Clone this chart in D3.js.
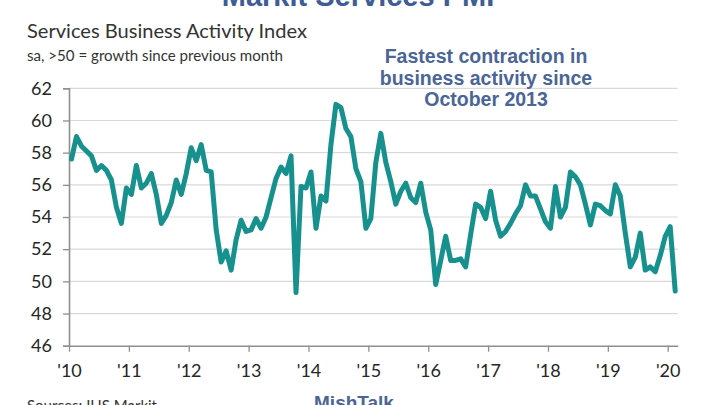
<!DOCTYPE html>
<html>
<head>
<meta charset="utf-8">
<script src="https://cdn.jsdelivr.net/npm/d3@7"></script>
<style>
  html, body { margin: 0; padding: 0; background: #fff; }
  svg { display: block; }
</style>
</head>
<body>
<svg id="chart" width="712" height="405"></svg>
<script>
// ---- Data ----
const startYear = 2010;
const values = [
  57.6, 59.0, 58.4, 58.1, 57.8, 56.9, 57.2, 56.9, 56.3, 54.6, 53.6, 55.8,   // 2010
  55.4, 57.2, 55.8, 56.1, 56.7, 55.4, 53.6, 54.1, 54.9, 56.3, 55.4, 56.7,   // 2011
  58.3, 57.5, 58.5, 56.9, 56.8, 53.2, 51.2, 51.9, 50.7, 52.6, 53.8, 53.1,   // 2012
  53.2, 53.9, 53.3, 54.0, 55.2, 56.4, 57.1, 56.7, 57.8, 49.3, 55.9, 55.8,   // 2013
  56.8, 53.3, 55.3, 55.0, 58.5, 61.0, 60.8, 59.5, 59.0, 57.0, 56.2, 53.3,   // 2014
  53.9, 57.4, 59.2, 57.4, 56.2, 54.8, 55.6, 56.1, 55.2, 54.9, 56.1, 54.3,   // 2015
  53.2, 49.8, 51.3, 52.8, 51.3, 51.3, 51.4, 50.9, 52.9, 54.8, 54.6, 53.9,   // 2016
  55.6, 53.8, 52.8, 53.1, 53.6, 54.2, 54.7, 56.0, 55.3, 55.3, 54.5, 53.7,   // 2017
  53.3, 55.9, 54.0, 54.6, 56.8, 56.5, 56.0, 54.8, 53.5, 54.8, 54.7, 54.4,   // 2018
  54.2, 56.0, 55.3, 53.0, 50.9, 51.5, 53.0, 50.7, 50.9, 50.6, 51.6, 52.8,   // 2019
  53.4, 49.4                                                                // 2020
];
const yTicks = [46, 48, 50, 52, 54, 56, 58, 60, 62];
const xTickLabels = ["'10", "'11", "'12", "'13", "'14", "'15", "'16", "'17", "'18", "'19", "'20"];
const titleText = "Markit Services PMI";
const chartTitle = "Services Business Activity Index";
const chartSubtitle = "sa, >50 = growth since previous month";
const noteLines = ["Fastest contraction in", "business activity since", "October 2013"];
const sourceText = "Sources: IHS Markit";
const brandText = "MishTalk";

// ---- Layout ----
const svg = d3.select("#chart");
const x = d3.scaleLinear().domain([0, 122]).range([69, 677.7]);
const y = d3.scaleLinear().domain([46, 62]).range([345.7, 88.3]);

const axisColor = "#8f8f8f";
const gridColor = "#d9d9d9";
const textColor = "#262626";
const blue = "#4a6596";
const calibri = "Lato, 'Open Sans', sans-serif";

// Gridlines
svg.append("g")
  .selectAll("line")
  .data(yTicks.filter(t => t !== 46))
  .join("line")
  .attr("x1", x(0)).attr("x2", x(122))
  .attr("y1", d => y(d)).attr("y2", d => y(d))
  .attr("stroke", gridColor).attr("stroke-width", 1.2);

// Y axis
const yAxis = svg.append("g")
  .attr("transform", `translate(${x(0)},0)`)
  .call(d3.axisLeft(y).tickValues(yTicks).tickSize(6).tickPadding(11).tickFormat(d3.format("d")));
yAxis.select(".domain").attr("stroke", axisColor).attr("stroke-width", 1.6);
yAxis.selectAll(".tick line").attr("stroke", axisColor).attr("stroke-width", 1.3);
yAxis.selectAll(".tick text")
  .attr("fill", textColor).style("font-family", calibri).style("font-size", "18px");

// X axis
const yearIdx = xTickLabels.map((_, i) => i * 12);
const xAxis = svg.append("g")
  .attr("transform", `translate(0,${y(46)})`)
  .call(d3.axisBottom(x).tickValues(yearIdx).tickSize(6).tickSizeOuter(0)
    .tickFormat((d, i) => xTickLabels[i]));
xAxis.select(".domain").attr("stroke", axisColor).attr("stroke-width", 1.6);
xAxis.selectAll(".tick line").attr("stroke", axisColor).attr("stroke-width", 1.3);
xAxis.selectAll(".tick text")
  .attr("y", 19).attr("dy", "0.71em")
  .attr("fill", textColor).style("font-family", calibri).style("font-size", "18px");

// Line
const line = d3.line()
  .x((d, i) => x(i + 0.5))
  .y(d => y(d));
svg.append("path")
  .datum(values)
  .attr("d", line)
  .attr("fill", "none")
  .attr("stroke", "#17918e")
  .attr("stroke-width", 5)
  .attr("stroke-linejoin", "round")
  .attr("stroke-linecap", "round");

// Titles
svg.append("text")
  .attr("x", 358).attr("y", 6).attr("text-anchor", "middle")
  .attr("fill", "#3e5c96")
  .style("font-family", "'Liberation Sans', Arial, sans-serif")
  .style("font-weight", "bold").style("font-size", "29px")
  .text(titleText);

svg.append("text")
  .attr("x", 27).attr("y", 38)
  .attr("fill", "#333")
  .attr("textLength", 280).attr("lengthAdjust", "spacingAndGlyphs")
  .style("font-family", calibri).style("font-size", "20px")
  .text(chartTitle);

svg.append("text")
  .attr("x", 27).attr("y", 61)
  .attr("fill", "#333")
  .attr("textLength", 256).attr("lengthAdjust", "spacingAndGlyphs")
  .style("font-family", calibri).style("font-size", "14.5px")
  .text(chartSubtitle);

// Annotation
svg.append("g")
  .selectAll("text")
  .data(noteLines)
  .join("text")
  .attr("x", 486).attr("y", (d, i) => 63 + i * 21.5)
  .attr("text-anchor", "middle")
  .attr("fill", blue)
  .style("font-family", "'Liberation Sans', Arial, sans-serif")
  .style("font-weight", "bold").style("font-size", "19.5px")
  .text(d => d);

// Footer
svg.append("text")
  .attr("x", 27).attr("y", 411)
  .attr("fill", "#333")
  .style("font-family", calibri).style("font-size", "15px")
  .text(sourceText);

svg.append("text")
  .attr("x", 354).attr("y", 409).attr("text-anchor", "middle")
  .attr("fill", blue)
  .style("font-family", "'Liberation Sans', Arial, sans-serif")
  .style("font-weight", "bold").style("font-size", "19px")
  .text(brandText);
</script>
</body>
</html>
